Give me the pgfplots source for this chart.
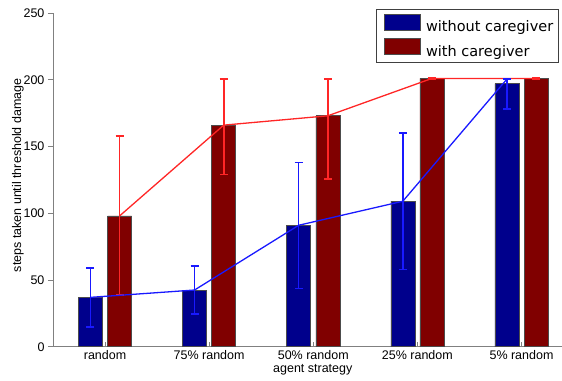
\documentclass[border=0pt]{standalone}
\usepackage{fontspec}
\setmainfont{Liberation Sans}
\newfontfamily\legfont{DejaVu Sans}
\usepackage{pgfplots}
\pgfplotsset{compat=1.18}

\definecolor{barblue}{rgb}{0,0,0.55}
\definecolor{barred}{rgb}{0.5,0,0}
\definecolor{lineblue}{rgb}{0.1,0.1,1}
\definecolor{linered}{rgb}{1,0.15,0.15}
\definecolor{axisgray}{rgb}{0.5,0.5,0.5}

\pgfplotsset{
  barstyle/.style={ybar, bar width=24bp, bar shift=0pt, draw=black!70, line width=0.6bp,
    legend image code/.code={\path (0bp,0bp);\draw[##1,fill] (3bp,-3bp) rectangle (39bp,13bp);}},
  errline/.style={sharp plot, draw=#1, color=#1, line width=1.3bp, mark=none,
    error bars/y dir=both, error bars/y explicit,
    /pgfplots/every error bar/.append style={/tikz/line width=1.6bp, /tikz/draw=#1},
    error bars/error mark options={rotate=90, mark size=4bp, line width=1.6bp, draw=#1}},
}

\begin{document}
\begin{tikzpicture}
\begin{axis}[
  at={(0,0)}, anchor=south west,
  scale only axis, width=509bp, height=334bp,
  xmin=-0.5, xmax=4.385, ymin=0, ymax=250,
  axis x line*=bottom, axis y line*=left,
  axis line style={axisgray, line width=0.8bp},
  xtick={0,...,4},
  xticklabels={random, 75\% random, 50\% random, 25\% random, 5\% random},
  ytick={0,50,...,250},
  tick align=inside,
  major tick length=5bp,
  tick style={axisgray, line width=0.6bp},
  ytick style={xshift=-5bp},
  /pgf/number format/assume math mode=true,
  ticklabel style={font=\fontsize{12.5bp}{14bp}\selectfont},
  yticklabel style={xshift=-5bp},
  label style={font=\fontsize{12.5bp}{14bp}\selectfont},
  xlabel={agent strategy},
  xlabel style={at={(axis description cs:0.5108,0)}, anchor=base, yshift=-26bp},
  ylabel={steps taken until threshold damage},
  ylabel style={at={(axis description cs:-0.0688,0.5135)}, anchor=center},
  legend style={at={(axis description cs:0.9941,1.012)}, anchor=north east,
    draw=black!75, line width=0.8bp, inner xsep=5bp, inner ysep=4.5bp,
    nodes={inner sep=0pt}, column sep=5bp, row sep=5bp,
    font=\legfont\fontsize{14.5bp}{17bp}\selectfont},
  legend cell align=left,
]
% mean bars, grouped around each strategy
\addplot[barstyle, fill=barblue] coordinates {
  (-0.14,37) (0.86,42.5) (1.86,91) (2.86,109) (3.86,197)};
\addlegendentry{without caregiver}
\addplot[barstyle, fill=barred] coordinates {
  (0.14,98) (1.14,166) (2.14,173) (3.14,201) (4.14,201)};
\addlegendentry{with caregiver}

% trend lines with spread
\addplot[forget plot, errline=linered] coordinates {
  (0.14,98)  += (0,60)   -= (0,59.3)
  (1.14,166) += (0,34.4) -= (0,37)
  (2.14,173) += (0,27.4) -= (0,47.5)
  (3.14,201) += (0,0.5)  -= (0,0.5)
  (4.14,201) += (0,0.5)  -= (0,0.5)};
\addplot[forget plot, errline=lineblue] coordinates {
  (-0.14,37)  += (0,22)   -= (0,22)
  (0.86,42.5) += (0,18)   -= (0,18)
  (1.86,91)   += (0,47)   -= (0,47.4)
  (2.86,109)  += (0,51.2) -= (0,51)
  (3.86,200.5) += (0,0)   -= (0,22.5)};
\end{axis}
\path[use as bounding box] (-53bp,-34bp) rectangle (509bp,347bp);
\end{tikzpicture}
\end{document}
